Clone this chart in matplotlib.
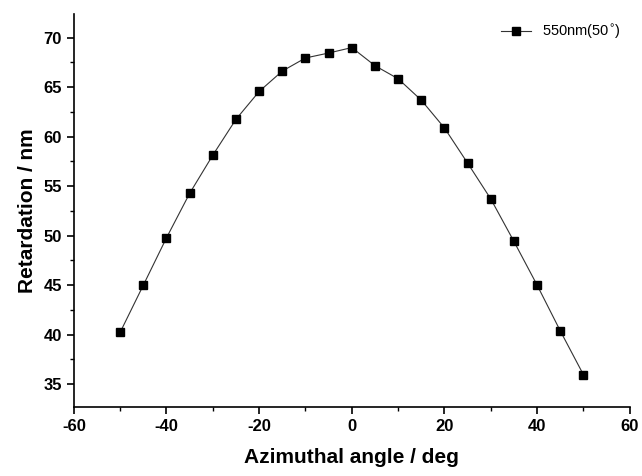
import matplotlib
matplotlib.use("Agg")
import matplotlib.pyplot as plt
from matplotlib.ticker import MultipleLocator

angle = [-50, -45, -40, -35, -30, -25, -20, -15, -10, -5, 0,
         5, 10, 15, 20, 25, 30, 35, 40, 45, 50]
retardation = [40.24, 45.0, 49.78, 54.27, 58.13, 61.75, 64.56, 66.62, 67.94, 68.44, 68.99,
               67.16, 65.84, 63.68, 60.87, 57.32, 53.70, 49.41, 45.0, 40.38, 35.95]
series_label = "550nm(50$^{\\circ}$)"

plt.rcParams['font.family'] = ['Liberation Sans', 'DejaVu Sans']
plt.rcParams['axes.unicode_minus'] = False

fig = plt.figure(figsize=(6.42, 4.76), dpi=100)
ax = fig.add_axes([0.115, 0.145, 0.866, 0.826])

ax.plot(angle, retardation, color='#333333', lw=0.8, marker='s', ms=6,
        mfc='black', mec='black', label=series_label)

ax.set_xlim(-60, 60)
ax.set_ylim(32.7, 72.4)
ax.xaxis.set_major_locator(MultipleLocator(20))
ax.xaxis.set_minor_locator(MultipleLocator(10))
ax.yaxis.set_major_locator(MultipleLocator(5))
ax.yaxis.set_minor_locator(MultipleLocator(2.5))

for side in ('top', 'right'):
    ax.spines[side].set_visible(False)
for side in ('left', 'bottom'):
    ax.spines[side].set_linewidth(1.2)

ax.tick_params(which='major', direction='out', length=5, width=1.2, labelsize=12)
ax.tick_params(which='minor', direction='out', length=3, width=1.0)
for lab in ax.get_xticklabels() + ax.get_yticklabels():
    lab.set_fontweight('bold')

ax.set_xlabel("Azimuthal angle / deg", fontsize=15, fontweight='bold', labelpad=10)
ax.set_ylabel("Retardation / nm", fontsize=15, fontweight='bold', labelpad=5)

ax.legend(loc='upper right', frameon=False, fontsize=10.5, handlelength=2.0,
          borderaxespad=0.2)

fig.savefig("out.png", dpi=100)
